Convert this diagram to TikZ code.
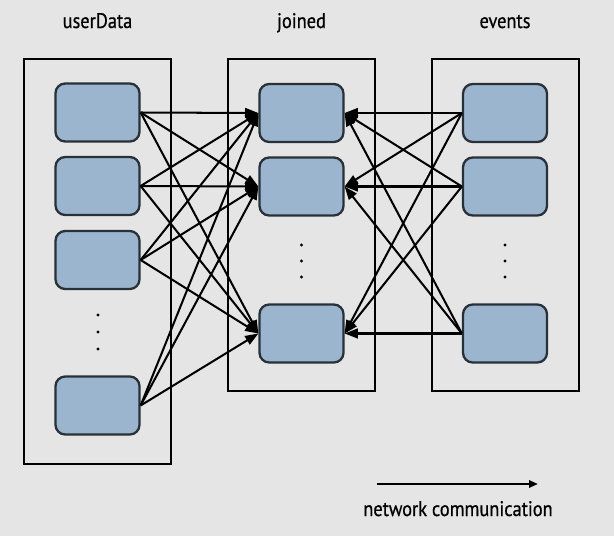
\documentclass[tikz,border=0pt]{standalone}
\usepackage{fontspec}
\setmainfont[FakeStretch=0.87,FakeBold=0.6]{PT Sans}
\usetikzlibrary{arrows.meta, positioning}
\definecolor{bggray}{RGB}{229,229,229}
\definecolor{cellblue}{RGB}{155,181,207}
\definecolor{celledge}{RGB}{40,48,56}

\begin{document}
\begin{tikzpicture}[scale=0.2]
\tikzstyle{every node}+=[inner sep=0pt]
\tikzstyle{cell}=[draw=celledge, fill=cellblue, line width=1.3pt, rounded corners=5.5pt, minimum width=47.8pt, minimum height=33pt]
\tikzstyle{link}=[black, line width=1.15pt, -{Triangle[length=7.5pt,width=5.5pt]}]
\tikzstyle{title}=[font=\fontsize{12}{14}\selectfont, text=black, anchor=base]
\tikzstyle{frame}=[black, line width=1.2pt]
\fill [bggray] (0,0) rectangle (61.4,-53.6);
\draw [frame] (2.4,-5.9) rectangle (17.1,-46.4);
\draw [frame] (22.8,-5.9) rectangle (37.5,-39.1);
\draw [frame] (43.2,-5.9) rectangle (57.9,-39.1);
\node [title] (tuser) at (9.75,-2.8) {userData};
\node [title] (tjoin) at (30.15,-2.8) {joined};
\node [title] (tevent) at (50.5,-2.8) {events};
\node [cell] (u1) at (9.75,-11.25) {};
\node [cell] (u2) at (9.75,-18.6) {};
\node [cell] (u3) at (9.75,-26) {};
\node [cell] (u4) at (9.75,-40.55) {};
\node [cell] (j1) at (30.15,-11.3) {};
\node [cell] (j2) at (30.15,-18.65) {};
\node [cell] (j3) at (30.15,-33.35) {};
\node [cell] (e1) at (50.5,-11.3) {};
\node [cell] (e2) at (50.5,-18.65) {};
\node [cell] (e3) at (50.5,-33.35) {};
\fill [black] (9.8,-31.5) circle (0.17);
\fill [black] (9.8,-33.2) circle (0.17);
\fill [black] (9.8,-34.9) circle (0.17);
\fill [black] (30.15,-24.5) circle (0.17);
\fill [black] (30.15,-26.1) circle (0.17);
\fill [black] (30.15,-27.7) circle (0.17);
\fill [black] (50.5,-24.5) circle (0.17);
\fill [black] (50.5,-26.1) circle (0.17);
\fill [black] (50.5,-27.7) circle (0.17);
\draw [link] (u1.east) -- (j1.west);
\draw [link] (u1.east) -- (j2.west);
\draw [link] (u1.east) -- (j3.west);
\draw [link] (u2.east) -- (j1.west);
\draw [link] (u2.east) -- (j2.west);
\draw [link] (u2.east) -- (j3.west);
\draw [link] (u3.east) -- (j1.west);
\draw [link] (u3.east) -- (j2.west);
\draw [link] (u3.east) -- (j3.west);
\draw [link] (u4.east) -- (j1.west);
\draw [link] (u4.east) -- (j2.west);
\draw [link] (u4.east) -- (j3.west);
\draw [link] (e1.west) -- (j1.east);
\draw [link] (e1.west) -- (j2.east);
\draw [link] (e1.west) -- (j3.east);
\draw [link] (e2.west) -- (j1.east);
\draw [link] (e2.west) -- (j2.east);
\draw [link] (e2.west) -- (j3.east);
\draw [link] (e3.west) -- (j1.east);
\draw [link] (e3.west) -- (j2.east);
\draw [link] (e3.west) -- (j3.east);
\coordinate (netstart) at (37.7,-48.4);
\coordinate (netend) at (53.8,-48.4);
\draw [black, line width=1.3pt, -{Triangle[length=5pt,width=4pt]}] (netstart) -- (netend);
\node [title] (netlabel) at (45.8,-51.6) {network communication};
\end{tikzpicture}
\end{document}
